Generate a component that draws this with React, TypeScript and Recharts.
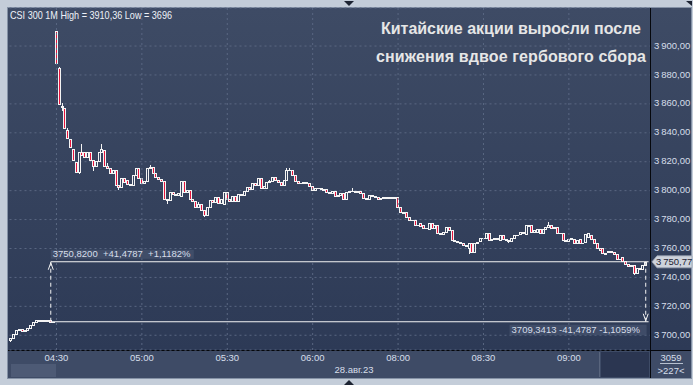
import React from "react";
import { ComposedChart, Bar, XAxis, YAxis, CartesianGrid, ReferenceLine } from "recharts";

// candles: [open, close, high?, low?]  (high/low only where the wick sticks out of the body)
const prevDay: (number | null)[][] = [
  [3697, 3698, null, 3696], [3698, 3701], [3701, 3703.5], [3703.5, 3704], [3704, 3703],
  [3703, 3703.5], [3703.5, 3705], [3705, 3707], [3707, 3709], [3709, 3710.5],
  [3710.5, 3710], [3710, 3710.3], [3710.3, 3709.8], [3709.8, 3710.2], [3710.2, 3709.5],
  [3709.5, 3709.34],
];

const session: (number | null)[][] = [
  // 04:30
  [3910.36, 3888.3, null, 3888], [3884.9, 3860, 3885.5], [3858.6, 3858, 3860.8, 3856], [3857.3, 3843.3], [3842, 3836.4, 3843.3],
  [3835.7, 3830.2], [3828.8, 3821.2], [3819.8, 3812.9], [3812.9, 3826.8, null, 3812], [3826.8, 3824.5, 3832],
  [3826.5, 3823.5], [3823.5, 3826.8], [3826.8, 3821.2], [3821.2, 3817.1, null, 3814.3], [3817.1, 3820.5],
  [3820.5, 3827], [3827, 3828.5, 3832.5], [3828, 3817], [3817, 3816, 3819], [3815.5, 3812.4],
  [3812.4, 3814.5], [3814.3, 3804], [3804, 3802.7, null, 3800.8], [3802.7, 3808.5], [3808.5, 3806],
  [3807.5, 3804.8], [3804.8, 3804.2], [3804.2, 3811], [3811, 3815.5], [3815.5, 3808.5],
  // 05:00
  [3808.5, 3805.5], [3805.5, 3807], [3807, 3816], [3816, 3816.5, 3818], [3816.5, 3812],
  [3812, 3809.5], [3809.5, 3808], [3808, 3806.5], [3806.5, 3794.5], [3794.5, 3793.5, null, 3791.5],
  [3793.5, 3799], [3799, 3798], [3798, 3797], [3797, 3798.5], [3796.5, 3807],
  [3807, 3799], [3799, 3800.5], [3800.5, 3794], [3794, 3793], [3793, 3789],
  [3789, 3790.5, 3792], [3790.5, 3786.5], [3786.5, 3783.5, null, 3782.5], [3783.5, 3788.5], [3788.5, 3793.5],
  [3793.5, 3792], [3792, 3795.5], [3795.5, 3791.5], [3791.5, 3794], [3791, 3799],
  // 05:30
  [3799, 3794.5], [3794.5, 3793], [3793, 3796.5], [3796.5, 3793], [3793, 3797.5],
  [3797.5, 3797], [3797, 3800], [3800, 3802.5], [3802.5, 3801], [3801, 3805],
  [3805, 3804], [3804, 3809], [3809, 3801.5], [3801.5, 3803], [3802, 3806],
  [3806, 3806.5, 3807.5], [3806.5, 3809.5], [3809.5, 3807.5], [3807.5, 3806], [3806, 3804],
  [3804, 3807.5], [3807.5, 3814.5, 3815.5], [3814.5, 3814, 3815.5], [3814.5, 3811], [3811, 3807],
  [3807, 3805.5], [3805.5, 3805], [3805, 3806], [3806, 3805], [3805.5, 3803.5],
  // 06:00
  [3803.5, 3800.5], [3800.5, 3801.5], [3801.5, 3802], [3802, 3801], [3801, 3800.5],
  [3801, 3799], [3799, 3798.5], [3798.5, 3799.5], [3799.5, 3796], [3796, 3797],
  [3797, 3798.5], [3798.5, 3794.5], [3794.5, 3799], [3799, 3800], [3800, 3799.5, 3802],
  [3799.5, 3799], [3799, 3799.5], [3799.5, 3798.5], [3798.5, 3795], [3795, 3794],
  [3794.5, 3797], [3797, 3796.5], [3796.5, 3795.5], [3795.5, 3794.5], [3794.5, 3795],
  [3795, 3795.5], [3795.5, 3795], [3795, 3795.5], [3795.5, 3795], [3795, 3795.5],
  // 08:00
  [3795.5, 3788.5], [3788.5, 3785.5], [3785.5, 3784.5], [3785, 3781.5], [3781.5, 3780],
  [3780, 3779.5], [3779.5, 3776.5], [3776.5, 3776], [3777.5, 3775.5], [3776, 3774.5],
  [3774.5, 3774], [3773.5, 3777.5], [3777.5, 3774], [3774, 3776.5], [3776.5, 3770.5],
  [3770.5, 3770], [3770, 3771.5], [3771.5, 3775], [3775, 3772.5], [3773, 3766],
  [3766, 3765], [3765, 3764.5], [3764.5, 3763.5], [3763.5, 3762.5], [3762.5, 3761.5],
  [3760.5, 3763.5, null, 3756.7], [3763.5, 3757.8], [3757.8, 3763.5], [3763.5, 3764.5], [3765, 3767],
  // 08:30
  [3767, 3767.5], [3767, 3770.5], [3770.5, 3766], [3766, 3766.5], [3766.5, 3767],
  [3767, 3766.5], [3766, 3769.5], [3769.5, 3766.5], [3766.5, 3766], [3766, 3765.5, null, 3764.5],
  [3765.5, 3767.5], [3767.5, 3769.5], [3769.5, 3769], [3770, 3771.5], [3771.5, 3771],
  [3770, 3776.5], [3776.5, 3775.5], [3776.5, 3771.5], [3771.5, 3772.5], [3771.5, 3773.5],
  [3773.5, 3771], [3771, 3773.5], [3773.5, 3775], [3775, 3776.5, 3778.5], [3776.5, 3774.5],
  [3774.5, 3775], [3775, 3771], [3771, 3770.5], [3770.5, 3766], [3766, 3765.5],
  // 09:00
  [3765.5, 3766.5], [3766.5, 3767], [3766.5, 3763.5], [3763.5, 3766], [3766.5, 3764],
  [3764, 3763.5], [3764.5, 3770], [3768, 3770.5], [3769.5, 3766.5], [3766.5, 3764],
  [3764, 3760], [3760, 3759], [3760, 3756.7], [3756.7, 3756], [3757.5, 3758],
  [3758, 3757.5], [3757.5, 3756.5], [3756.5, 3753], [3753, 3752.5], [3754, 3751.5],
  [3751.5, 3749], [3749, 3748], [3748, 3748.6], [3748.6, 3743, null, 3742.5], [3743, 3746.3],
  [3746.3, 3745.5], [3745.5, 3748.5], [3748.5, 3750.77],
];

const timeTicks = [16, 46, 76, 106, 136, 166, 196];
const timeLabels = ["04:30", "05:00", "05:30", "06:00", "08:00", "08:30", "09:00"];
const priceTicks = [3700, 3720, 3740, 3760, 3780, 3800, 3820, 3840, 3860, 3880, 3900];
const lastPrice = 3750.77;
const upperRef = 3750.82;
const lowerRef = 3709.3413;
const refStart = 14;
const refEnd = 223;
const upperText = "3750,8200  +41,4787  +1,1182%";
const lowerText = "3709,3413 -41,4787 -1,1059%";
const header = "CSI 300 1M High = 3910,36 Low = 3696";
const titleLines = ["Китайские акции выросли после", "снижения вдвое гербового сбора"];
const dateLabel = "28.авг.23";
const counters = ["3059", ">227<"];

const candles = [...prevDay, ...session];
const data: any[] = candles.map(([o, c, h, l], i) => {
  const hi = h ?? Math.max(o as number, c as number);
  const lo = l ?? Math.min(o as number, c as number);
  return { i, o, c, hi, lo, range: [lo, hi] };
});
data.push({ i: candles.length, range: null });

const FONT = "'Liberation Sans', Arial, sans-serif";
const RED = "#e5143c";
const WHITE = "#f4f4f4";
const GRID = "#5a6782";
const LABEL = "#d6deea";

const fmtPrice = (v: number) =>
  v.toFixed(2).replace(".", ",").replace(/^(\d)(\d{3})/, "$1\u2009$2");

function Candle(props: any) {
  const { x, y, width, height, payload } = props;
  if (!payload || payload.range == null) return null;
  const { o, c, hi, lo } = payload;
  const top = Math.min(y, y + height);
  const bottom = Math.max(y, y + height);
  const span = hi - lo;
  const py = (v: number) => (span > 0 ? top + ((hi - v) / span) * (bottom - top) : top);
  const col = Math.floor(x + width / 2);
  const bTop = Math.round(py(Math.max(o, c)));
  const bBot = Math.round(py(Math.min(o, c)));
  const wTop = Math.round(py(hi));
  const wBot = Math.round(py(lo));
  const down = c < o;
  const parts: React.ReactNode[] = [];
  if (bTop - wTop > 0) parts.push(<rect key="wt" x={col} y={wTop} width={1} height={bTop - wTop} fill={WHITE} />);
  if (wBot - bBot > 0) parts.push(<rect key="wb" x={col} y={bBot + 1} width={1} height={wBot - bBot} fill={WHITE} />);
  const bh = bBot - bTop;
  if (bh <= 0) {
    parts.push(<rect key="d" x={col - 1} y={bTop} width={3} height={1} fill={WHITE} />);
  } else if (bh === 1) {
    parts.push(<rect key="d" x={col - 1} y={bTop} width={3} height={2} fill={WHITE} />);
  } else {
    parts.push(<rect key="l" x={col - 1} y={bTop} width={1} height={bh + 1} fill={WHITE} />);
    parts.push(<rect key="r" x={col + 1} y={bTop} width={1} height={bh + 1} fill={WHITE} />);
    parts.push(<rect key="t" x={col} y={bTop} width={1} height={1} fill={WHITE} />);
    parts.push(<rect key="b" x={col} y={bBot} width={1} height={1} fill={WHITE} />);
    if (down) parts.push(<rect key="in" x={col} y={bTop + 1} width={1} height={bh - 1} fill={RED} />);
  }
  return <g shapeRendering="crispEdges">{parts}</g>;
}

function TimeTick({ x, y, payload }: any) {
  const k = timeTicks.indexOf(payload.value);
  if (k < 0) return null;
  return (
    <text x={x} y={y + 11.4} textAnchor="middle" fontSize={9.5} fontFamily={FONT} fill={LABEL}>
      {timeLabels[k]}
    </text>
  );
}

function PriceTick({ x, y, payload }: any) {
  return (
    <text x={x} y={y + 2.6} textAnchor="start" fontSize={9.5} fontFamily={FONT} fill={LABEL}>
      {fmtPrice(payload.value)}
    </text>
  );
}

function UpperLine({ x1, y1, x2 }: any) {
  const a = Math.min(x1, x2), b = Math.max(x1, x2);
  return (
    <g>
      <rect x={a} y={y1 - 12} width={143} height={9} fill="#46536e" opacity={0.75} />
      <text x={a + 2} y={y1 - 4.3} fontSize={9.5} fontFamily={FONT} fill={LABEL} style={{ whiteSpace: "pre" }}>
        {upperText}
      </text>
      <line x1={a} y1={y1} x2={b} y2={y1} stroke={WHITE} strokeWidth={1.2} />
    </g>
  );
}

function LowerLine({ x1, y1, x2 }: any) {
  const a = Math.min(x1, x2), b = Math.max(x1, x2);
  return (
    <g>
      <rect x={b - 139} y={y1 + 3} width={137} height={10.5} fill="#46536e" opacity={0.75} />
      <text x={b - 137} y={y1 + 11.6} fontSize={9.5} fontFamily={FONT} fill={LABEL}>
        {lowerText}
      </text>
      <line x1={a} y1={y1} x2={b} y2={y1} stroke={WHITE} strokeWidth={1.2} />
    </g>
  );
}

function Arrow({ x1, y1, x2, y2 }: any) {
  // arrow points towards (x2, y2)
  const dir = y2 < y1 ? 1 : -1;
  return (
    <g fill="none" stroke={WHITE} strokeWidth={1}>
      <line x1={x1} y1={y1} x2={x2} y2={y2} strokeDasharray="4 3" />
      <polyline points={`${x2 - 2.5},${y2 + dir * 8} ${x2},${y2 + dir * 1} ${x2 + 2.5},${y2 + dir * 8}`} />
    </g>
  );
}

function PriceTag({ x1, x2, y1 }: any) {
  const x = Math.max(x1, x2) + 2;
  return (
    <g>
      <polygon
        points={`${x},${y1} ${x + 5},${y1 - 6} ${x + 40},${y1 - 6} ${x + 40},${y1 + 6} ${x + 5},${y1 + 6}`}
        fill="#cdd2db"
        stroke="#9aa3b2"
        strokeWidth={0.8}
      />
      <text x={x + 4} y={y1 + 3.4} fontSize={9.5} fontFamily={FONT} fill="#1e2433">
        {fmtPrice(lastPrice)}
      </text>
    </g>
  );
}

export default function App() {
  return (
    <div style={{ position: "absolute", left: 0, top: 0, width: 693, height: 385, background: "#c4cdd9", overflow: "hidden" }}>
      {/* panels */}
      <div style={{ position: "absolute", left: 7, top: 7, width: 685, height: 372, background: "#8592a6" }} />
      <div style={{ position: "absolute", left: 8, top: 8, width: 683, height: 342, background: "linear-gradient(#3e4b65, #2d3a56)" }} />
      <div style={{ position: "absolute", left: 8, top: 351, width: 683, height: 27, background: "#3e4b66" }} />
      <div style={{ position: "absolute", left: 601, top: 352, width: 48, height: 25, background: "#2b3651" }} />
      <div style={{ position: "absolute", left: 599, top: 352, width: 1, height: 25, background: "#59657d" }} />
      <div style={{ position: "absolute", left: 11, top: 364, width: 45, height: 13, background: "#4d5a75" }} />
      <div style={{ position: "absolute", left: 8, top: 350, width: 683, height: 1, background: "#05070c" }} />
      <div style={{ position: "absolute", left: 650, top: 8, width: 1, height: 370, background: "#05070c" }} />

      <div style={{ position: "absolute", left: 0, top: 0 }}>
        <ComposedChart width={693} height={385} data={data} margin={{ top: 8, right: 2, bottom: 7, left: 9.5 }}>
          <CartesianGrid vertical={false} stroke={GRID} strokeDasharray="2 3" />
          {timeTicks.map((t) => (
            <ReferenceLine key={t} x={t} stroke={GRID} strokeDasharray="2 3" />
          ))}
          <XAxis
            dataKey="i"
            ticks={timeTicks}
            interval={0}
            height={28}
            tickSize={0}
            tickMargin={0}
            axisLine={false}
            tickLine={false}
            tick={<TimeTick />}
          />
          <YAxis
            orientation="right"
            type="number"
            domain={[3689.8, 3926.3]}
            allowDataOverflow
            ticks={priceTicks}
            width={41}
            tickSize={0}
            tickMargin={4}
            axisLine={false}
            tickLine={false}
            tick={<PriceTick />}
          />
          <Bar dataKey="range" shape={Candle} isAnimationActive={false} />
          <ReferenceLine segment={[{ x: refStart, y: upperRef }, { x: refEnd + 1, y: upperRef }]} shape={UpperLine} />
          <ReferenceLine segment={[{ x: refStart, y: lowerRef }, { x: refEnd + 1, y: lowerRef }]} shape={LowerLine} />
          <ReferenceLine segment={[{ x: refStart, y: lowerRef }, { x: refStart, y: upperRef }]} shape={Arrow} />
          <ReferenceLine segment={[{ x: refEnd, y: upperRef }, { x: refEnd, y: lowerRef }]} shape={Arrow} />
          <ReferenceLine y={lastPrice} shape={PriceTag} />
        </ComposedChart>
      </div>

      <svg width={693} height={385} style={{ position: "absolute", left: 0, top: 0, pointerEvents: "none" }}>
        <text x={10} y={18.5} fontSize={10.5} fontFamily={FONT} fill="#eef2f8" textLength={162} lengthAdjust="spacingAndGlyphs">{header}</text>
        {titleLines.map((t, k) => (
          <text
            key={t}
            x={511}
            y={34.3 + k * 28}
            textAnchor="middle"
            fontSize={16}
            fontWeight="bold"
            fontFamily={FONT}
            fill="#e6e6e6"
            textLength={k === 0 ? 260 : 270}
            lengthAdjust="spacing"
          >
            {t}
          </text>
        ))}
        <text x={354} y={372.8} textAnchor="middle" fontSize={9.5} fontFamily={FONT} fill={LABEL}>{dateLabel}</text>
        <text x={671} y={360.7} textAnchor="middle" fontSize={9.5} fontFamily={FONT} fill={LABEL}>{counters[0]}</text>
        <line x1={660} y1={363.5} x2={683} y2={363.5} stroke={LABEL} strokeWidth={0.8} />
        <text x={671} y={373.6} textAnchor="middle" fontSize={9.5} fontFamily={FONT} fill={LABEL}>{counters[1]}</text>
        <polygon points="344,1 354,1 349,6" fill="#1d2433" />
        <polygon points="344,385 354,385 349,380" fill="#1d2433" />
        <polygon points="686,1 692,1 692,6" fill="#1d2433" />
      </svg>
    </div>
  );
}
